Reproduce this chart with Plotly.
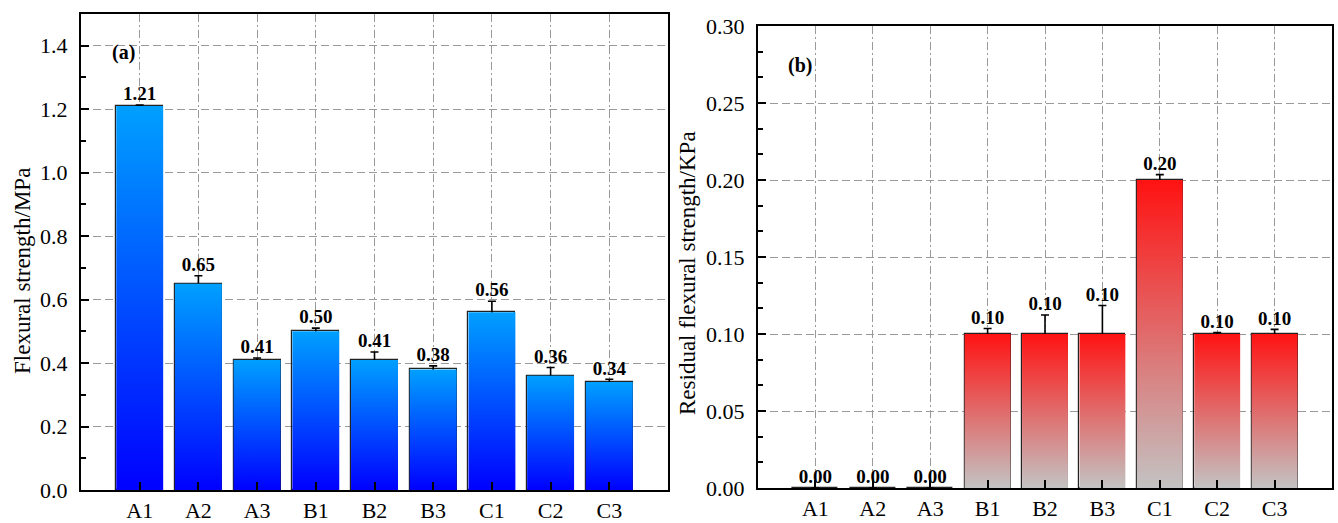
import plotly.graph_objects as go

# ---------------- data ----------------
categories = ["A1", "A2", "A3", "B1", "B2", "B3", "C1", "C2", "C3"]
flexural = [1.21, 0.65, 0.41, 0.50, 0.41, 0.38, 0.56, 0.36, 0.34]
flexural_err = [0.003, 0.025, 0.006, 0.010, 0.025, 0.011, 0.035, 0.026, 0.009]
residual = [0.00, 0.00, 0.00, 0.10, 0.10, 0.10, 0.20, 0.10, 0.10]
residual_err = [0.0, 0.0, 0.0, 0.0036, 0.0123, 0.0185, 0.0035, 0.001, 0.003]
left_ticks = [0.0, 0.2, 0.4, 0.6, 0.8, 1.0, 1.2, 1.4]
right_ticks = [0.00, 0.05, 0.10, 0.15, 0.20, 0.25, 0.30]

positions = list(range(len(categories)))
BAR_W = 0.8
FONT = "Liberation Serif"

fig = go.Figure()


def add_panel(values, errors, xa, ya, colorscale):
    # gradient fills (one polygon per bar, derived from the values)
    for p, v in zip(positions, values):
        if v <= 0:
            continue
        fig.add_trace(go.Scatter(
            x=[p - BAR_W / 2, p + BAR_W / 2, p + BAR_W / 2, p - BAR_W / 2, p - BAR_W / 2],
            y=[0, 0, v, v, 0],
            mode="lines", fill="toself",
            line=dict(width=0, color="rgba(0,0,0,0)"),
            fillgradient=dict(type="vertical", colorscale=colorscale),
            xaxis=xa, yaxis=ya, showlegend=False, hoverinfo="skip",
        ))
    # bar outlines and error bars
    fig.add_trace(go.Bar(
        x=positions, y=values, width=BAR_W,
        marker=dict(color="rgba(0,0,0,0)", line=dict(color="#222222", width=1.2)),
        error_y=dict(type="data", array=errors, visible=True,
                     color="black", thickness=1.6, width=4),
        xaxis=xa, yaxis=ya, showlegend=False,
    ))
    # value labels above error bars
    fig.add_trace(go.Scatter(
        x=positions, y=[v + e for v, e in zip(values, errors)],
        mode="text", text=[f"<b>{v:.2f}</b>" for v in values],
        textposition="top center",
        textfont=dict(family=FONT, size=19, color="black"),
        xaxis=xa, yaxis=ya, showlegend=False, hoverinfo="skip",
    ))


add_panel(flexural, flexural_err, "x", "y",
          [[0, "rgb(0,0,255)"], [1, "rgb(0,160,255)"]])
add_panel(residual, residual_err, "x2", "y2",
          [[0, "rgb(195,195,195)"], [1, "rgb(255,18,18)"]])

W, H = 1338, 523


def xa_common(dom):
    return dict(
        domain=dom, range=[-1, 9], tickmode="array", tickvals=positions,
        ticktext=categories, ticks="inside", ticklen=8, tickwidth=2,
        tickcolor="black", showline=True, linecolor="black", linewidth=2,
        mirror=True, showgrid=True, gridcolor="#9a9a9a", gridwidth=1,
        griddash="8px,3px,2px,3px", zeroline=False, automargin=False,
        tickfont=dict(family=FONT, size=22, color="black"),
        ticklabelstandoff=0,
    )


def ya_common(dom, rng, ticks, fmt, minor_dtick):
    return dict(
        domain=dom, range=rng, tickmode="array", tickvals=ticks,
        ticktext=[fmt.format(t) for t in ticks], ticks="inside", ticklen=8,
        tickwidth=2, tickcolor="black", showline=True, linecolor="black",
        linewidth=2, mirror=True, showgrid=True, gridcolor="#9a9a9a",
        gridwidth=1, griddash="8px,4px", zeroline=False, automargin=False,
        tickfont=dict(family=FONT, size=22, color="black"),
        ticklabelstandoff=7,
        minor=dict(dtick=minor_dtick, tick0=0, ticks="inside", ticklen=5,
                   tickwidth=2, tickcolor="black", showgrid=False),
    )


fig.update_layout(
    template="none",
    width=W, height=H,
    margin=dict(l=0, r=0, t=0, b=0, autoexpand=False),
    font=dict(family=FONT, size=22, color="black"),
    paper_bgcolor="white", plot_bgcolor="white",
    bargap=0,
    xaxis=dict(**xa_common([81 / W, 668 / W]), anchor="y"),
    yaxis=dict(**ya_common([(H - 490) / H, (H - 14) / H], [0, 1.5],
                           left_ticks, "{:.1f}", 0.1), anchor="x"),
    xaxis2=dict(**xa_common([758 / W, 1332 / W]), anchor="y2"),
    yaxis2=dict(**ya_common([(H - 488) / H, (H - 26) / H], [0, 0.3],
                            right_ticks, "{:.2f}", 0.05 / 3), anchor="x2"),
    annotations=[
        dict(text="Flexural strength/MPa", x=22 / W, y=(H - 271) / H,
             xref="paper", yref="paper", textangle=-90, showarrow=False,
             font=dict(family=FONT, size=23, color="black"),
             xanchor="center", yanchor="middle"),
        dict(text="Residual flexural strength/KPa", x=687 / W, y=(H - 273) / H,
             xref="paper", yref="paper", textangle=-90, showarrow=False,
             font=dict(family=FONT, size=23, color="black"),
             xanchor="center", yanchor="middle"),
        dict(text="<b>(a)</b>", x=123 / W, y=(H - 53) / H, xref="paper",
             yref="paper", showarrow=False,
             font=dict(family=FONT, size=20, color="black"),
             xanchor="center", yanchor="middle"),
        dict(text="<b>(b)</b>", x=800 / W, y=(H - 65) / H, xref="paper",
             yref="paper", showarrow=False,
             font=dict(family=FONT, size=20, color="black"),
             xanchor="center", yanchor="middle"),
    ],
)

fig.write_html("out.html")
